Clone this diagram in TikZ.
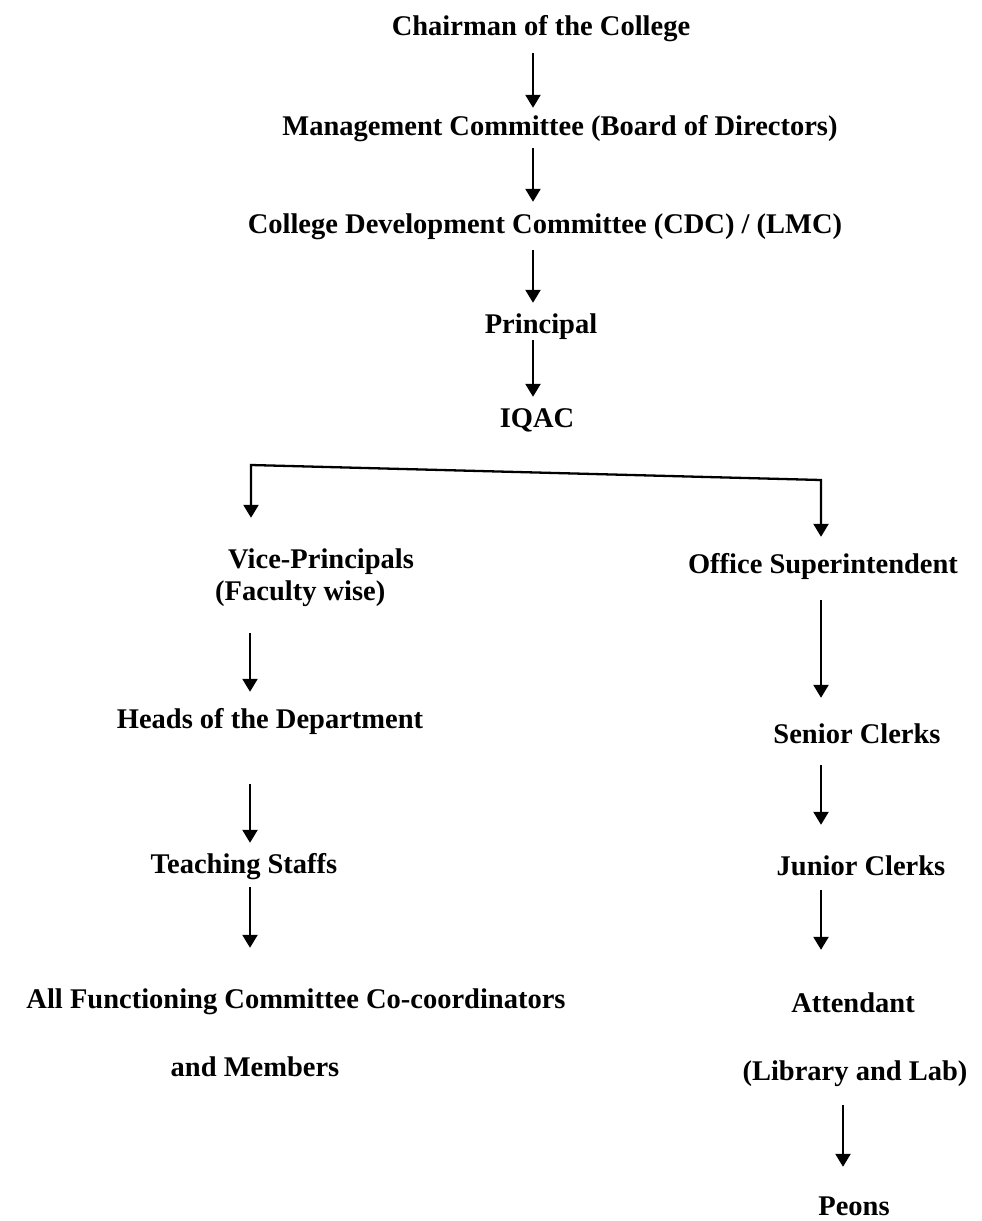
\documentclass[tikz,border=0pt]{standalone}
\usepackage{fontspec}
\setmainfont{Liberation Serif}
\usetikzlibrary{arrows.meta}
\tikzset{
  lbl/.style={font=\bfseries\fontsize{28.5}{34}\selectfont, inner sep=0pt, anchor=base, text height=20pt, text depth=6pt},
  arr/.style={line width=2.3pt, -{Triangle[length=13pt,width=15pt]}},
  arrs/.style={line width=2.3pt, {Triangle[length=13pt,width=15pt]}-{Triangle[length=13pt,width=15pt]}}
}
\begin{document}
\begin{tikzpicture}[x=1pt, y=-1pt, line join=miter]
	\useasboundingbox (0,0) rectangle (982,1221);
	% columns of the arrows
	\coordinate (M) at (533,0);
	\coordinate (L) at (250,0);
	\coordinate (R) at (821,0);
	\coordinate (R2) at (843,0);
	\coordinate (kL) at (251,465);
	\coordinate (kR) at (821,480);
	% top chain
	\node[lbl] (Ch) at (541,35) {Chairman of the College};
	\node[lbl] (MC) at (560,135) {Management Committee (Board of Directors)};
	\node[lbl] (CDC) at (545,233) {College Development Committee (CDC) / (LMC)};
	\node[lbl] (Pr) at (541,333) {Principal};
	\node[lbl] (IQ) at (537,427) {IQAC};
	% left side
	\node[lbl, anchor=base west] (VP) at (228,568) {Vice-Principals};
	\node[lbl, anchor=base west] (FW) at (215,600) {(Faculty wise)};
	\node[lbl] (HD) at (270,728) {Heads of the Department};
	\node[lbl] (TS) at (244,873) {Teaching Staffs};
	\node[lbl] (AF) at (296,1008) {All Functioning Committee Co-coordinators};
	\node[lbl] (AM) at (255,1076) {and Members};
	% right side
	\node[lbl] (OS) at (823,573) {Office Superintendent};
	\node[lbl] (SC) at (857,743) {Senior Clerks};
	\node[lbl] (JC) at (861,875) {Junior Clerks};
	\node[lbl] (At) at (853,1012) {Attendant};
	\node[lbl] (Lib) at (855,1080) {(Library and Lab)};
	\node[lbl] (Pe) at (854,1215) {Peons};
	% arrows
	\foreach \a/\b/\s/\e in {Ch/MC/12pt/7pt, MC/CDC/7pt/11pt, CDC/Pr/11pt/10pt, Pr/IQ/1pt/10pt}
		\draw[arr, shorten <=\s, shorten >=\e] (\a.south -| M) -- (\b.north -| M);
	\foreach \a/\b/\s/\e in {FW/HD/27pt/16pt, HD/TS/50pt/10pt, TS/AF/8pt/40pt}
		\draw[arr, shorten <=\s, shorten >=\e] (\a.south -| L) -- (\b.north -| L);
	\foreach \a/\b/\s/\e in {OS/SC/21pt/25pt, SC/JC/16pt/30pt, JC/At/9pt/42pt}
		\draw[arr, shorten <=\s, shorten >=\e] (\a.south -| R) -- (\b.north -| R);
	\draw[arr, shorten <=19pt, shorten >=28pt] (Lib.south -| R2) -- (Pe.north -| R2);
	\draw[arrs, shorten <=30pt, shorten >=16pt] (VP.north -| kL) -- (kL) -- (kR) -- (OS.north -| kR);
\end{tikzpicture}
\end{document}
